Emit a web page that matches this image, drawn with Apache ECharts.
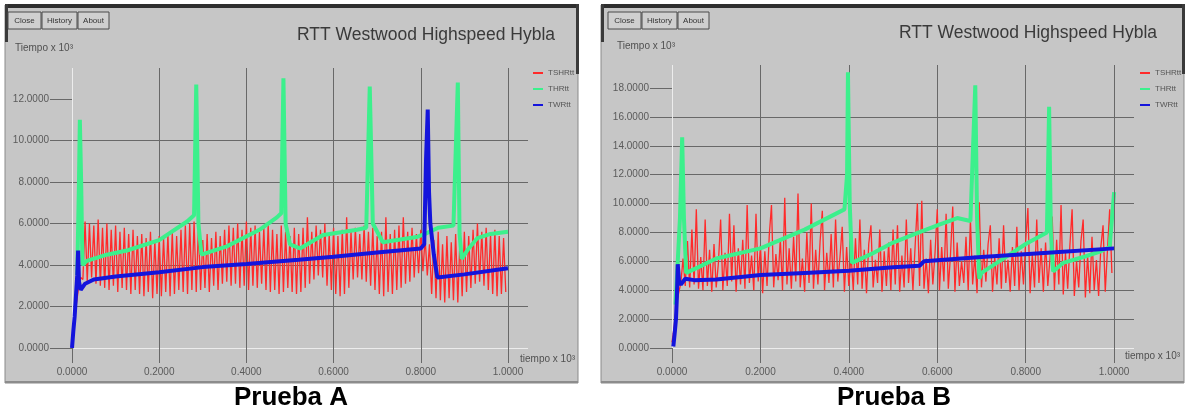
<!DOCTYPE html>
<html><head><meta charset="utf-8">
<script src="https://cdn.jsdelivr.net/npm/echarts@6/dist/echarts.min.js"></script>
<style>html,body{margin:0;padding:0;background:#fff}#c{width:1187px;height:412px}</style>
</head><body><div id="c"></div>
<script>
// ---------- data ----------
const seriesNames = ['TSHRtt', 'THRtt', 'TWRtt'];
const titleText = 'RTT Westwood Highspeed Hybla';
const panelLabels = ['Prueba A', 'Prueba B'];
const buttonLabels = ['Close', 'History', 'About'];
const yAxisTitle = 'Tiempo x 10³';
const xAxisTitle = 'tiempo x 10³';
const xTicks = [0, 0.2, 0.4, 0.6, 0.8, 1.0];
const yTicksA = [0, 2, 4, 6, 8, 10, 12];
const yTicksB = [0, 2, 4, 6, 8, 10, 12, 14, 16, 18];
const sampleStep = 0.005; // time between red samples (x 10^3)

// Prueba A – red RTT, sampled every sampleStep from t = 0
const redA = [
 0.5,1.2,2.1,2.9,3.4,
 3.3,6.1,3.2,6.0,3.4,5.9,3.1,6.2,
 3.0,5.8,2.9,6.0,2.8,5.7,3.0,5.9,2.7,5.6,2.9,5.8,2.8,5.5,2.6,5.7,2.8,5.4,
 2.6,5.5,2.5,5.3,2.7,5.6,2.4,5.2,2.6,5.4,2.5,5.3,2.7,5.5,2.5,5.6,2.6,5.4,2.8,5.7,
 2.7,5.9,2.6,6.0,2.8,6.1,2.7,5.8,
 2.8,5.2,2.9,5.5,2.7,5.3,3.0,5.6,2.8,5.4,3.1,5.7,
 3.2,5.9,3.0,5.8,3.1,6.0,2.9,5.7,3.0,6.1,2.8,5.8,3.0,5.9,2.9,5.6,3.1,5.8,2.8,6.0,
 2.7,5.7,2.8,5.5,2.6,5.9,2.7,5.6,2.9,5.4,2.7,5.8,2.6,5.5,
 2.7,5.8,2.9,6.3,3.1,5.6,3.3,5.9,3.5,5.7,3.4,6.0,3.0,5.5,2.8,5.8,
 2.6,5.4,2.5,5.7,2.6,6.3,2.9,5.6,3.3,5.8,
 3.4,5.5,3.3,5.9,3.2,5.6,3.0,5.8,2.8,5.4,
 2.6,5.6,2.5,6.3,2.7,5.5,2.6,5.7,2.8,5.9,
 2.9,6.3,3.1,5.6,3.2,5.8,3.4,5.5,3.6,5.7,3.7,5.3,
 3.5,5.0,
 2.6,5.2,2.4,5.6,2.3,5.0,2.2,5.4,2.4,5.1,2.3,5.5,2.2,5.3,2.5,5.6,
 2.7,5.4,2.9,5.7,3.1,6.0,3.2,5.6,3.0,5.8,2.8,5.5,2.6,5.7,
 2.5,5.4,2.6,5.3,2.7
];
// Prueba A – green RTT [t, value]
const greenA = [
 [0.012,3.5],[0.016,8.0],[0.018,11.0],[0.021,8.0],[0.024,4.0],[0.034,4.2],[0.08,4.5],[0.126,4.7],
 [0.2,5.2],[0.264,6.1],[0.28,6.4],[0.285,12.7],[0.29,6.0],[0.297,4.5],[0.355,4.9],[0.43,5.7],
 [0.47,6.3],[0.48,6.5],[0.485,13.0],[0.49,6.0],[0.5,5.0],[0.523,4.8],[0.576,5.45],[0.654,5.7],
 [0.675,5.8],[0.683,12.6],[0.69,6.0],[0.713,5.1],[0.79,5.35],[0.81,5.5],[0.84,5.8],[0.875,5.9],
 [0.885,12.8],[0.889,5.5],[0.894,4.3],[0.91,4.8],[0.93,5.3],[0.96,5.5],[1.0,5.6]
];
// Prueba A – blue RTT [t, value]
const blueA = [
 [0.0,0.0],[0.003,0.8],[0.006,1.5],[0.009,2.5],[0.012,3.5],[0.014,4.7],[0.016,3.2],[0.02,2.8],
 [0.03,3.1],[0.05,3.3],[0.1,3.45],[0.2,3.65],[0.3,3.9],[0.4,4.05],[0.52,4.25],[0.6,4.4],
 [0.7,4.6],[0.8,4.8],[0.808,5.0],[0.812,9.0],[0.816,11.5],[0.819,7.5],[0.822,6.0],[0.83,4.5],
 [0.838,3.4],[0.9,3.55],[1.0,3.85]
];

// Prueba B – red RTT, sampled every sampleStep from t = 0
const redB = [
 0.4,1.5,3.0,3.8,4.5,6.2,4.3,7.4,4.2,8.2,
 4.4,9.6,4.1,6.3,4.0,8.9,4.3,6.8,3.9,7.2,
 4.2,5.9,8.9,4.0,6.6,4.3,9.3,4.6,8.5,3.9,
 6.9,4.4,7.5,4.1,9.9,4.5,6.4,4.0,9.3,4.6,
 7.1,3.8,6.7,4.3,7.8,9.9,4.2,6.5,4.7,7.6,
 4.0,10.4,4.4,6.9,4.1,7.7,4.6,10.7,4.2,6.2,
 3.9,8.0,4.5,10.0,4.1,6.8,4.4,7.4,9.5,4.0,
 6.6,4.5,7.9,4.2,8.9,4.6,6.3,8.4,3.9,7.0,
 4.3,6.5,4.0,7.6,4.4,8.9,4.1,6.8,3.8,7.2,
 8.5,4.2,6.1,4.5,8.2,3.9,6.7,4.3,7.3,4.0,
 8.2,4.4,8.5,3.9,6.4,4.2,8.9,4.5,6.9,4.0,
 7.1,10.0,4.3,10.2,4.1,6.2,3.8,7.5,4.4,6.6,
 9.6,4.0,7.0,4.6,9.3,4.1,6.5,9.8,3.9,7.3,
 4.3,6.0,4.5,7.7,4.0,8.9,4.4,6.4,3.8,10.1,
 4.2,6.8,4.6,7.2,8.5,3.9,6.3,4.4,7.6,4.1,
 8.5,4.5,6.1,3.9,7.0,4.3,8.4,4.0,6.7,4.4,
 7.4,9.7,3.8,6.5,4.2,8.9,4.5,6.9,3.9,7.3,
 4.3,6.2,9.1,4.0,7.5,4.4,9.9,3.7,6.6,4.1,
 7.1,9.6,3.6,6.0,4.2,7.4,8.9,3.5,6.4,3.8,
 7.7,4.0,6.1,3.6,7.0,8.5,3.9,6.8,9.6,5.2
];
// Prueba B – green RTT [t, value]
const greenB = [
 [0.008,3.0],[0.018,9.0],[0.023,14.6],[0.027,9.0],[0.032,5.2],[0.06,5.6],[0.1,6.2],[0.2,6.9],
 [0.3,8.2],[0.39,9.6],[0.396,12.0],[0.398,19.1],[0.402,10.0],[0.407,5.9],[0.45,6.5],[0.5,7.3],
 [0.55,7.9],[0.6,8.5],[0.645,9.0],[0.675,8.8],[0.686,18.2],[0.69,9.0],[0.695,4.8],[0.7,5.2],
 [0.72,5.6],[0.76,6.4],[0.8,7.2],[0.848,8.0],[0.853,16.7],[0.857,8.0],[0.862,5.3],[0.885,5.9],
 [0.93,6.3],[0.97,6.7],[0.99,7.0],[1.0,10.8]
];
// Prueba B – blue RTT [t, value]
const blueB = [
 [0.003,0.1],[0.006,1.0],[0.009,2.0],[0.011,3.5],[0.013,5.8],[0.016,4.6],[0.02,4.4],[0.03,4.8],
 [0.05,4.7],[0.1,4.75],[0.2,5.05],[0.3,5.2],[0.4,5.35],[0.5,5.6],[0.56,5.7],[0.57,6.0],
 [0.7,6.3],[0.85,6.6],[1.0,6.9]
];

// ---------- chart ----------
const FONT = 'Liberation Sans, Arial, sans-serif';
const GRAY = '#c6c6c6';
const GRID = '#686868';
const LABEL = '#5a5a5a';
const COLORS = ['#ff2a2a', '#3cf08c', '#1414dc'];

function sampled(arr) { return arr.map((v, i) => [+(i * sampleStep).toFixed(3), v]); }
const lineColors = ['#ececec'].concat(Array(12).fill(GRID));

function xAxisCfg(idx, max) {
  return {
    type: 'value', gridIndex: idx, min: 0, max: max, interval: 0.2,
    axisLine: { show: false },
    axisTick: { show: true, length: 15, customValues: xTicks, lineStyle: { color: GRID } },
    axisLabel: { customValues: xTicks, margin: 19, fontSize: 10, color: LABEL, fontFamily: FONT,
                 formatter: v => v.toFixed(4) },
    splitLine: { show: true, showMaxLine: false, lineStyle: { color: lineColors, width: 1 } }
  };
}
function yAxisCfg(idx, max, ticks) {
  return {
    type: 'value', gridIndex: idx, min: 0, max: max, interval: 2,
    axisLine: { show: false },
    axisTick: { show: true, length: 22, customValues: ticks, lineStyle: { color: GRID } },
    axisLabel: { customValues: ticks, margin: 23, fontSize: 10, color: LABEL, fontFamily: FONT,
                 formatter: v => v.toFixed(4) },
    splitLine: { show: true, showMaxLine: false, lineStyle: { color: lineColors, width: 1 } }
  };
}
function seriesSet(idx, red, green, blue) {
  const base = { type: 'line', xAxisIndex: idx, yAxisIndex: idx, showSymbol: false, symbol: 'none',
                 silent: true, animation: false };
  return [
    Object.assign({}, base, { name: seriesNames[0], data: sampled(red), z: 2,
      lineStyle: { color: COLORS[0], width: 1.3 }, itemStyle: { color: COLORS[0] },
      markLine: { silent: true, symbol: 'none', label: { show: false }, animation: false,
        lineStyle: { color: GRID, width: 1, type: 'solid' }, data: [{ xAxis: xTicks[xTicks.length - 1] }] } }),
    Object.assign({}, base, { name: seriesNames[1], data: green, z: 3,
      lineStyle: { color: COLORS[1], width: 4 }, itemStyle: { color: COLORS[1] } }),
    Object.assign({}, base, { name: seriesNames[2], data: blue, z: 4,
      lineStyle: { color: COLORS[2], width: 4 }, itemStyle: { color: COLORS[2] } })
  ];
}
function panelGraphics(x0, w, btnX, yTitleX, yTitleY, xTitleX, xTitleY, labelX, labelText) {
  const g = [
    { type: 'rect', shape: { x: x0, y: 5, width: w, height: 378 }, style: { fill: GRAY, stroke: '#8a8a8a', lineWidth: 1 }, z: -10 },
    { type: 'rect', shape: { x: x0, y: 4, width: w, height: 4 }, style: { fill: '#2e2e2e' }, z: -9 },
    { type: 'rect', shape: { x: x0, y: 4, width: 3, height: 38 }, style: { fill: '#3a3a3a' }, z: -9 },
    { type: 'rect', shape: { x: x0 + w - 2, y: 4, width: 3, height: 70 }, style: { fill: '#3a3a3a' }, z: -9 },
    { type: 'rect', shape: { x: x0, y: 381, width: w, height: 2 }, style: { fill: '#8c8c8c' }, z: -9 },
    { type: 'text', left: yTitleX, top: yTitleY, style: { text: yAxisTitle, fontSize: 10, fill: '#505050', fontFamily: FONT } },
    { type: 'text', left: xTitleX, top: xTitleY, style: { text: xAxisTitle, fontSize: 10, fill: '#505050', fontFamily: FONT } },
    { type: 'text', x: labelX, y: 398, style: { text: labelText, fontSize: 26, fontWeight: 'bold',
        fill: '#000', fontFamily: FONT, align: 'center', verticalAlign: 'middle' } }
  ];
  const widths = [33, 35, 31];
  let bx = btnX;
  buttonLabels.forEach((t, i) => {
    g.push({ type: 'rect', shape: { x: bx, y: 12, width: widths[i], height: 17 }, style: { fill: '#cfcfcf', stroke: '#4a4a4a', lineWidth: 1 } });
    g.push({ type: 'text', x: bx + widths[i] / 2, y: 20.5, style: { text: t, fontSize: 8, fill: '#333', fontFamily: FONT, align: 'center', verticalAlign: 'middle' } });
    bx += widths[i] + 1;
  });
  return g;
}

const legendCfg = (left) => ({ data: seriesNames, orient: 'vertical', left: left, top: 64, itemGap: 8, itemWidth: 10, itemHeight: 2,
  icon: 'rect', textStyle: { fontSize: 8, color: '#555', fontFamily: FONT }, selectedMode: false });
const titleCfg = (left, top) => ({ text: titleText, left: left, top: top,
  textStyle: { fontSize: 17.5, fontWeight: 'normal', color: '#3a3a3a', fontFamily: FONT } });

const chart = echarts.init(document.getElementById('c'), null, { renderer: 'canvas' });
chart.setOption({
  backgroundColor: '#ffffff',
  animation: false,
  title: [titleCfg(292, 21), titleCfg(894, 19)],
  legend: [legendCfg(528), legendCfg(1135)],
  grid: [
    { left: 72, top: 68, width: 456, height: 280, containLabel: false },
    { left: 672, top: 65, width: 462, height: 283, containLabel: false }
  ],
  xAxis: [xAxisCfg(0, 1.046), xAxisCfg(1, 1.045)],
  yAxis: [yAxisCfg(0, 13.5, yTicksA), yAxisCfg(1, 19.6, yTicksB)],
  graphic: panelGraphics(5, 573, 8, 15, 43, 520, 354, 291, panelLabels[0])
    .concat(panelGraphics(601, 583, 608, 617, 41, 1125, 351, 894, panelLabels[1])),
  series: seriesSet(0, redA, greenA, blueA).concat(seriesSet(1, redB, greenB, blueB))
});
</script></body></html>
